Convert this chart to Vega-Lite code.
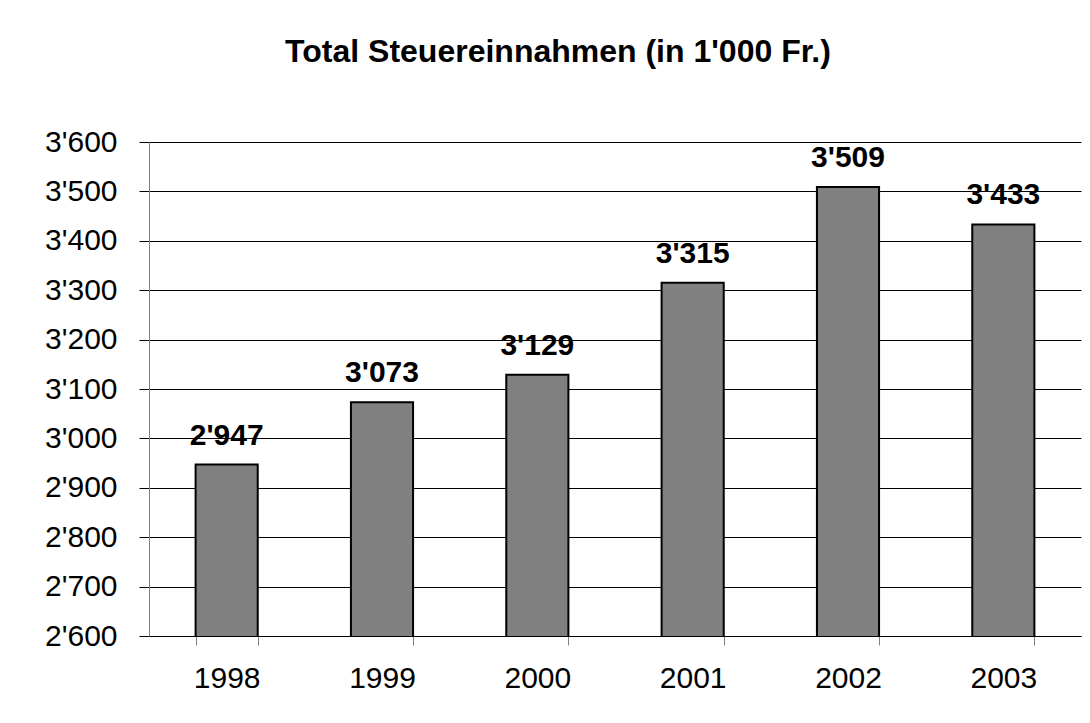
{
  "$schema": "https://vega.github.io/schema/vega-lite/v6.json",
  "width": 932,
  "height": 494,
  "autosize": {"type": "none"},
  "padding": {"left": 149, "top": 142, "right": 9, "bottom": 87},
  "background": "white",
  "config": {
    "locale": {"number": {"decimal": ".", "thousands": "'", "grouping": [3], "currency": ["", ""]}},
    "font": "Liberation Sans",
    "view": {"stroke": null}
  },
  "title": {
    "text": "Total Steuereinnahmen (in 1'000 Fr.)",
    "font": "Liberation Sans",
    "fontSize": 32,
    "fontWeight": "bold",
    "color": "black",
    "anchor": "middle",
    "frame": "group",
    "dx": -57,
    "offset": 58
  },
  "data": {
    "values": [
      {"year": "1998", "value": 2947},
      {"year": "1999", "value": 3073},
      {"year": "2000", "value": 3129},
      {"year": "2001", "value": 3315},
      {"year": "2002", "value": 3509},
      {"year": "2003", "value": 3433}
    ]
  },
  "encoding": {
    "x": {
      "field": "year",
      "type": "nominal",
      "sort": null,
      "scale": {"paddingInner": 0.6, "paddingOuter": 0.3},
      "axis": {
        "title": null,
        "labelAngle": 0,
        "labelFont": "Liberation Sans",
        "labelFontSize": 30,
        "labelColor": "black",
        "labelPadding": 18,
        "domainColor": "black",
        "domainWidth": 1,
        "tickBand": "extent",
        "tickColor": "#808080",
        "tickSize": 9,
        "tickWidth": 1,
        "grid": false
      }
    },
    "y": {
      "field": "value",
      "type": "quantitative",
      "scale": {"domain": [2600, 3600], "nice": false, "zero": false},
      "axis": {
        "title": null,
        "values": [2600, 2700, 2800, 2900, 3000, 3100, 3200, 3300, 3400, 3500, 3600],
        "format": ",d",
        "labelFont": "Liberation Sans",
        "labelFontSize": 30,
        "labelColor": "black",
        "labelPadding": 22,
        "domainColor": "#808080",
        "domainWidth": 1,
        "tickColor": "black",
        "tickSize": 10,
        "tickWidth": 1,
        "grid": true,
        "gridColor": "black",
        "gridWidth": 1,
        "gridOpacity": 1
      }
    }
  },
  "layer": [
    {
      "mark": {"type": "bar", "fill": "#808080", "stroke": "black", "strokeWidth": 2, "clip": true},
      "encoding": {}
    },
    {
      "mark": {"type": "text", "font": "Liberation Sans", "fontSize": 30, "fontWeight": "bold", "color": "black", "baseline": "alphabetic", "dy": -20},
      "encoding": {
        "text": {"field": "value", "type": "quantitative", "format": ",d"}
      }
    }
  ]
}
